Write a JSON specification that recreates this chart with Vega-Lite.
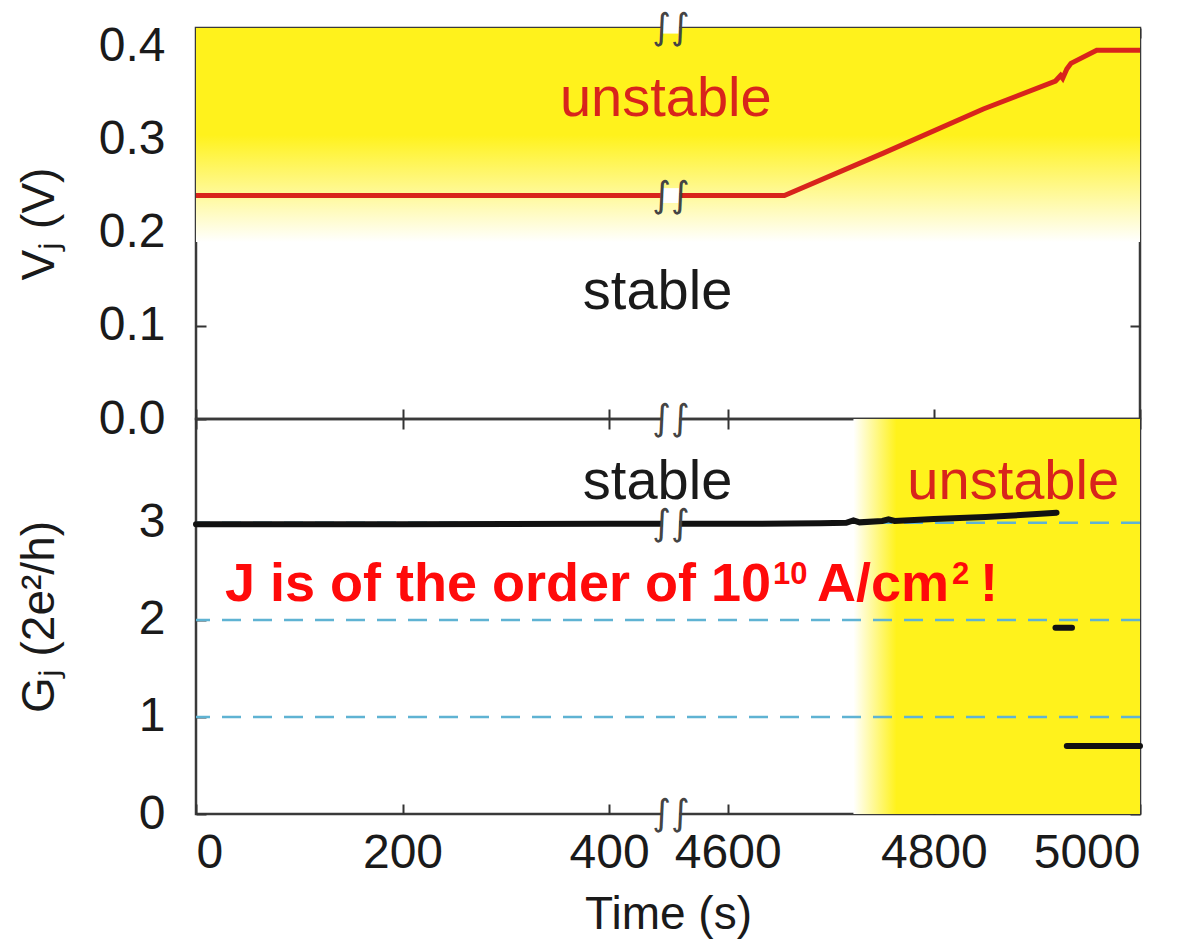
{
  "$schema": "https://vega.github.io/schema/vega-lite/v6.json",
  "background": "white",
  "padding": {"left": 14, "top": 8, "right": 45, "bottom": 5},
  "spacing": 0,
  "bounds": "flush",
  "config": {
    "font": "Liberation Sans",
    "view": {"stroke": "#3a3a3a", "strokeWidth": 2.5},
    "axis": {
      "labelFont": "Liberation Sans", "labelFontSize": 48, "labelColor": "#1a1a1a",
      "titleFont": "Liberation Sans", "titleFontSize": 46, "titleFontWeight": "normal", "titleColor": "#1a1a1a",
      "tickColor": "#333333", "tickWidth": 2, "tickSize": -10, "domain": false, "grid": false, "zindex": 1
    }
  },
  "datasets": {
    "vj": [
      {"t": 0, "v": 0.24}, {"t": 4655, "v": 0.24}, {"t": 4751, "v": 0.2856}, {"t": 4848, "v": 0.333},
      {"t": 4918, "v": 0.363}, {"t": 4923, "v": 0.369}, {"t": 4925, "v": 0.366}, {"t": 4929, "v": 0.376},
      {"t": 4933, "v": 0.382}, {"t": 4958, "v": 0.396}, {"t": 5000, "v": 0.396}
    ],
    "gj": [
      {"seg": "a", "t": 0, "g": 2.985}, {"seg": "a", "t": 200, "g": 2.985}, {"seg": "a", "t": 400, "g": 2.99},
      {"seg": "a", "t": 4600, "g": 2.99}, {"seg": "a", "t": 4690, "g": 2.995}, {"seg": "a", "t": 4715, "g": 3.0},
      {"seg": "a", "t": 4722, "g": 3.025}, {"seg": "a", "t": 4728, "g": 3.005}, {"seg": "a", "t": 4750, "g": 3.02},
      {"seg": "a", "t": 4756, "g": 3.035}, {"seg": "a", "t": 4762, "g": 3.02}, {"seg": "a", "t": 4800, "g": 3.04},
      {"seg": "a", "t": 4850, "g": 3.06}, {"seg": "a", "t": 4900, "g": 3.09}, {"seg": "a", "t": 4919, "g": 3.105},
      {"seg": "b", "t": 4918, "g": 1.92}, {"seg": "b", "t": 4934, "g": 1.92},
      {"seg": "c", "t": 4929, "g": 0.7}, {"seg": "c", "t": 5000, "g": 0.7}
    ],
    "levels": [{"g": 1}, {"g": 2}, {"g": 3}]
  },
  "vconcat": [
    {
      "width": 944, "height": 391,
      "layer": [
        {
          "data": {"values": [{"t0": 0, "t1": 5000, "v0": 0.19, "v1": 0.42}]},
          "mark": {"type": "rect", "color": {"gradient": "linear", "x1": 0, "y1": 0, "x2": 0, "y2": 1,
            "stops": [{"offset": 0, "color": "#fff21c"}, {"offset": 0.5, "color": "#fff21c"}, {"offset": 1, "color": "#ffffff"}]}},
          "encoding": {
            "x": {"field": "t0", "type": "quantitative", "scale": {"domain": [0, 460, 4545, 5000], "range": [0, 475, 475, 944], "nice": false, "zero": false},
              "axis": {"orient": "bottom", "values": [0, 200, 400, 4600, 4800, 5000], "labels": false, "title": null}},
            "x2": {"field": "t1"},
            "y": {"field": "v0", "type": "quantitative", "scale": {"domain": [0, 0.42], "nice": false, "zero": false},
              "axis": {"orient": "left", "values": [0, 0.1, 0.2, 0.3, 0.4], "format": ".1f", "labelPadding": 41, "title": "Vⱼ (V)", "titlePadding": 33, "minExtent": 100, "maxExtent": 100}},
            "y2": {"field": "v1"}
          }
        },
        {
          "data": {"name": "vj"},
          "mark": {"type": "line", "color": "#d8241c", "strokeWidth": 5},
          "encoding": {
            "x": {"field": "t", "type": "quantitative", "axis": {"orient": "top", "values": [0, 200, 400, 4600, 4800, 5000], "labels": false, "title": null}},
            "y": {"field": "v", "type": "quantitative", "axis": {"orient": "right", "values": [0, 0.1, 0.2, 0.3, 0.4], "labels": false, "title": null}}
          }
        },
        {
          "data": {"values": [{"t": 455, "v": 0.326, "label": "unstable"}]},
          "mark": {"type": "text", "color": "#d8241c", "fontSize": 56, "font": "Liberation Sans", "align": "center", "baseline": "alphabetic"},
          "encoding": {"x": {"field": "t", "type": "quantitative", "axis": null}, "y": {"field": "v", "type": "quantitative", "axis": null}, "text": {"field": "label"}}
        },
        {
          "data": {"values": [{"t": 447, "v": 0.118, "label": "stable"}]},
          "mark": {"type": "text", "color": "#1a1a1a", "fontSize": 56, "font": "Liberation Sans", "align": "center", "baseline": "alphabetic"},
          "encoding": {"x": {"field": "t", "type": "quantitative", "axis": null}, "y": {"field": "v", "type": "quantitative", "axis": null}, "text": {"field": "label"}}
        },
        {
          "data": {"values": [{"ta": 452, "tb": 4553, "va": 0.414, "vb": 0.426}, {"ta": 452, "tb": 4553, "va": 0.232, "vb": 0.248}]},
          "mark": {"type": "rect", "color": "#ffffff"},
          "encoding": {"x": {"field": "ta", "type": "quantitative", "axis": null}, "x2": {"field": "tb"}, "y": {"field": "va", "type": "quantitative", "axis": null}, "y2": {"field": "vb"}}
        },
        {
          "data": {"values": [{"t": 500, "v": 0.42, "s": "∫∫"}, {"t": 500, "v": 0.24, "s": "∫∫"}]},
          "mark": {"type": "text", "color": "#444444", "fontSize": 36, "font": "DejaVu Sans", "align": "center", "baseline": "middle"},
          "encoding": {"x": {"field": "t", "type": "quantitative", "axis": null}, "y": {"field": "v", "type": "quantitative", "axis": null}, "text": {"field": "s"}}
        }
      ],
      "resolve": {"axis": {"x": "independent", "y": "independent"}}
    },
    {
      "width": 944, "height": 395,
      "layer": [
        {
          "data": {"values": [{"t0": 4722, "t1": 5000, "g0": 0, "g1": 4.07}]},
          "mark": {"type": "rect", "color": {"gradient": "linear", "x1": 0, "y1": 0, "x2": 1, "y2": 0,
            "stops": [{"offset": 0, "color": "#ffffff"}, {"offset": 0.15, "color": "#fff21c"}, {"offset": 1, "color": "#fff21c"}]}},
          "encoding": {
            "x": {"field": "t0", "type": "quantitative", "scale": {"domain": [0, 460, 4545, 5000], "range": [0, 475, 475, 944], "nice": false, "zero": false},
              "axis": {"orient": "bottom", "values": [0, 200, 400, 4600, 4800, 5000], "format": "d", "labelPadding": 25, "title": "Time (s)", "titlePadding": 15}},
            "x2": {"field": "t1"},
            "y": {"field": "g0", "type": "quantitative", "scale": {"domain": [0, 4.07], "nice": false, "zero": false},
              "axis": {"orient": "left", "values": [0, 1, 2, 3], "labelPadding": 41, "title": "Gⱼ (2e²/h)", "titlePadding": 33, "minExtent": 100, "maxExtent": 100}},
            "y2": {"field": "g1"}
          }
        },
        {
          "data": {"name": "levels"},
          "mark": {"type": "rule", "color": "#5fb3d3", "strokeWidth": 2.5, "strokeDash": [19, 12]},
          "encoding": {"y": {"field": "g", "type": "quantitative", "axis": null}}
        },
        {
          "data": {"name": "gj"},
          "mark": {"type": "line", "color": "#111111", "strokeWidth": 6, "strokeCap": "round"},
          "encoding": {
            "x": {"field": "t", "type": "quantitative", "axis": {"orient": "top", "values": [0, 200, 400, 4600, 4800, 5000], "labels": false, "title": null}},
            "y": {"field": "g", "type": "quantitative", "axis": {"orient": "right", "values": [0, 1, 2, 3], "labels": false, "title": null}},
            "detail": {"field": "seg"}
          }
        },
        {
          "data": {"values": [{"t": 447, "g": 3.25, "label": "stable"}]},
          "mark": {"type": "text", "color": "#1a1a1a", "fontSize": 56, "font": "Liberation Sans", "align": "center", "baseline": "alphabetic"},
          "encoding": {"x": {"field": "t", "type": "quantitative", "axis": null}, "y": {"field": "g", "type": "quantitative", "axis": null}, "text": {"field": "label"}}
        },
        {
          "data": {"values": [{"t": 4877, "g": 3.25, "label": "unstable"}]},
          "mark": {"type": "text", "color": "#d8241c", "fontSize": 56, "font": "Liberation Sans", "align": "center", "baseline": "alphabetic"},
          "encoding": {"x": {"field": "t", "type": "quantitative", "axis": null}, "y": {"field": "g", "type": "quantitative", "axis": null}, "text": {"field": "label"}}
        },
        {
          "data": {"values": [{"t": 28, "g": 2.196, "label": "J is of the order of 10"}]},
          "mark": {"type": "text", "color": "#ff0a0a", "fontSize": 54, "fontWeight": "bold", "font": "Liberation Sans", "align": "left", "baseline": "alphabetic"},
          "encoding": {"x": {"field": "t", "type": "quantitative", "axis": null}, "y": {"field": "g", "type": "quantitative", "axis": null}, "text": {"field": "label"}}
        },
        {
          "data": {"values": [{"t": 28, "g": 2.196, "label": "10"}]},
          "mark": {"type": "text", "color": "#ff0a0a", "fontSize": 31, "fontWeight": "bold", "font": "Liberation Sans", "align": "left", "baseline": "alphabetic", "dx": 548, "dy": -17},
          "encoding": {"x": {"field": "t", "type": "quantitative", "axis": null}, "y": {"field": "g", "type": "quantitative", "axis": null}, "text": {"field": "label"}}
        },
        {
          "data": {"values": [{"t": 28, "g": 2.196, "label": "A/cm"}]},
          "mark": {"type": "text", "color": "#ff0a0a", "fontSize": 54, "fontWeight": "bold", "font": "Liberation Sans", "align": "left", "baseline": "alphabetic", "dx": 592},
          "encoding": {"x": {"field": "t", "type": "quantitative", "axis": null}, "y": {"field": "g", "type": "quantitative", "axis": null}, "text": {"field": "label"}}
        },
        {
          "data": {"values": [{"t": 28, "g": 2.196, "label": "2"}]},
          "mark": {"type": "text", "color": "#ff0a0a", "fontSize": 31, "fontWeight": "bold", "font": "Liberation Sans", "align": "left", "baseline": "alphabetic", "dx": 727, "dy": -17},
          "encoding": {"x": {"field": "t", "type": "quantitative", "axis": null}, "y": {"field": "g", "type": "quantitative", "axis": null}, "text": {"field": "label"}}
        },
        {
          "data": {"values": [{"t": 28, "g": 2.196, "label": "!"}]},
          "mark": {"type": "text", "color": "#ff0a0a", "fontSize": 54, "fontWeight": "bold", "font": "Liberation Sans", "align": "left", "baseline": "alphabetic", "dx": 755},
          "encoding": {"x": {"field": "t", "type": "quantitative", "axis": null}, "y": {"field": "g", "type": "quantitative", "axis": null}, "text": {"field": "label"}}
        },
        {
          "data": {"values": [{"ta": 452, "tb": 4553, "ga": 3.99, "gb": 4.15}, {"ta": 452, "tb": 4553, "ga": 2.93, "gb": 3.05}, {"ta": 452, "tb": 4553, "ga": -0.06, "gb": 0.06}]},
          "mark": {"type": "rect", "color": "#ffffff"},
          "encoding": {"x": {"field": "ta", "type": "quantitative", "axis": null}, "x2": {"field": "tb"}, "y": {"field": "ga", "type": "quantitative", "axis": null}, "y2": {"field": "gb"}}
        },
        {
          "data": {"values": [{"t": 500, "g": 4.07, "s": "∫∫"}, {"t": 500, "g": 2.99, "s": "∫∫"}, {"t": 500, "g": 0, "s": "∫∫"}]},
          "mark": {"type": "text", "color": "#444444", "fontSize": 36, "font": "DejaVu Sans", "align": "center", "baseline": "middle"},
          "encoding": {"x": {"field": "t", "type": "quantitative", "axis": null}, "y": {"field": "g", "type": "quantitative", "axis": null}, "text": {"field": "s"}}
        }
      ],
      "resolve": {"axis": {"x": "independent", "y": "independent"}}
    }
  ]
}
